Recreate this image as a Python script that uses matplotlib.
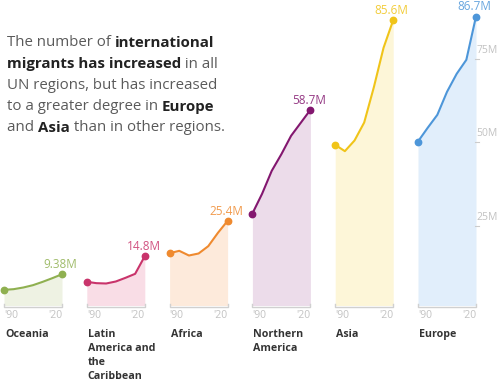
import numpy as np
import matplotlib.pyplot as plt

plt.rcParams['font.family'] = ['Open Sans', 'DejaVu Sans']

# migrant stock in millions
years = [1990, 1995, 2000, 2005, 2010, 2015, 2020]
regions = ['Oceania', 'Latin\nAmerica and\nthe\nCaribbean', 'Africa',
           'Northern\nAmerica', 'Asia', 'Europe']
oceania = [4.7, 4.9, 5.4, 6.1, 7.1, 8.2, 9.38]
latin_america = [7.1, 6.7, 6.6, 7.2, 8.3, 9.5, 14.8]
africa = [15.7, 16.4, 15.0, 15.6, 17.8, 21.8, 25.4]
northern_america = [27.6, 33.5, 40.4, 45.4, 50.9, 54.8, 58.7]
asia = [48.2, 46.3, 49.5, 54.9, 65.5, 77.3, 85.6]
europe = [49.2, 53.3, 57.2, 64.1, 69.5, 73.7, 86.7]
end_labels = ['9.38M', '14.8M', '25.4M', '58.7M', '85.6M', '86.7M']
y_ticks = [25, 50, 75]

series = [oceania, latin_america, africa, northern_america, asia, europe]
line_colors = ['#8fb050', '#c9346b', '#ef8a2f', '#83176f', '#f0c419', '#4d96d9']
fill_colors = ['#eef2e3', '#f9dde6', '#fdeadb', '#ecdcea', '#fdf6d8', '#e1eefb']

W, H = 500, 391
fig = plt.figure(figsize=(W / 100, H / 100), dpi=100)

base = 305.5   # pixel row of zero
top = 5.5      # pixel row of ymax
for i, vals in enumerate(series):
    left = 4 + 82.8 * i
    ax = fig.add_axes([left / W, (H - base) / H, 58 / W, (base - top) / H])
    ax.set_xlim(1990, 2020)
    ax.set_ylim(0, 90)
    ax.axis('off')
    c = line_colors[i]
    ax.fill_between(years, vals, color=fill_colors[i], lw=0)
    ax.plot(years, vals, color=c, lw=1.5, solid_capstyle='round',
            solid_joinstyle='round', clip_on=False)
    ax.plot([years[0], years[-1]], [vals[0], vals[-1]], 'o', ms=4.6,
            color=c, clip_on=False)
    ax.annotate(end_labels[i], (2020, vals[-1]), xytext=(-1, 7),
                textcoords='offset points', ha='center', va='center',
                color=c, fontsize=8.5, alpha=0.85)
    # little bracket under each panel
    ax.plot([1990, 1990, 2020, 2020], [0.6, -0.5, -0.5, 0.6], color='#d0d0d0',
            lw=1, clip_on=False)
    ax.text(1990, -3.1, "'90", ha='left', va='center', fontsize=7.5,
            color='#c2c2c2')
    ax.text(2020, -3.1, "'20", ha='right', va='center', fontsize=7.5,
            color='#c2c2c2')
    ax.text(1990.5, -7.0, regions[i], ha='left', va='top', fontsize=7.7,
            fontweight='bold', color='#333333', linespacing=1.4)
    if i == len(series) - 1:
        for v in y_ticks:
            ax.plot([2019.3, 2021.3], [v - 1, v - 1], color='#cccccc', lw=0.8,
                    clip_on=False)
            ax.text(2020.3, v + 1.5, f'{v}M', ha='left', va='center',
                    fontsize=7.5, color='#c2c2c2')

# intro text with bold words
lines = [
    [("The number of ", False), ("international", True)],
    [("migrants has increased", True), (" in all", False)],
    [("UN regions, but has increased", False)],
    [("to a greater degree in ", False), ("Europe", True)],
    [("and ", False), ("Asia", True), (" than in other regions.", False)],
]
renderer = fig.canvas.get_renderer()
y = 43
for line in lines:
    x = 7
    for s, bold in line:
        t = fig.text(x / W, 1 - y / H, s, fontsize=10.8, va='center', ha='left',
                     fontweight='bold' if bold else 'normal',
                     color='#222222' if bold else '#5a5a5a')
        x += t.get_window_extent(renderer).width
    y += 21.2

fig.savefig('out.png', dpi=100)
